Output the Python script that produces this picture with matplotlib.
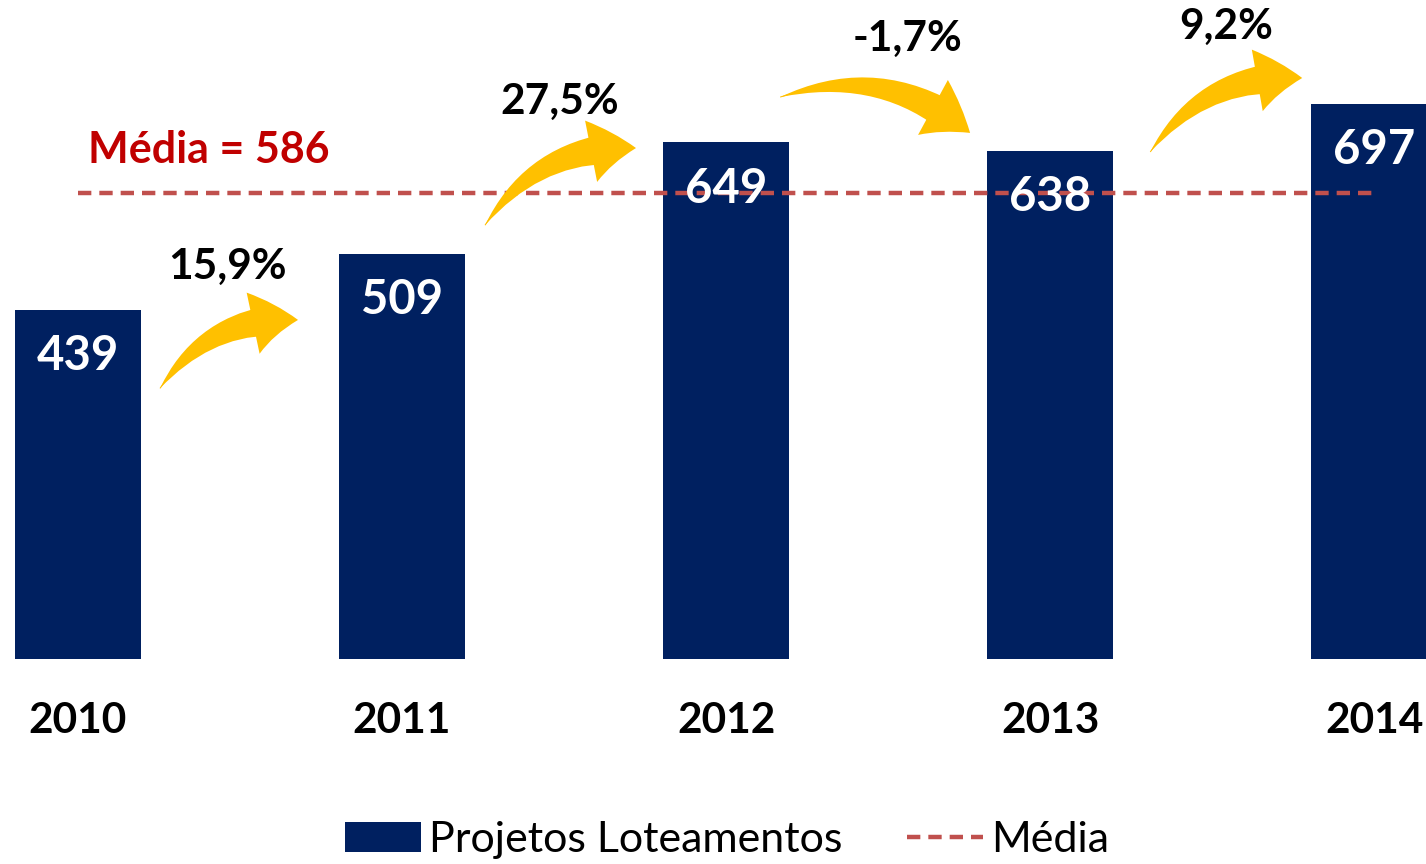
import matplotlib
matplotlib.use("Agg")
import matplotlib.pyplot as plt
from matplotlib.patches import FancyArrowPatch
import numpy as np

plt.rcParams['font.family'] = ['Lato', 'DejaVu Sans']

### Data
years = ["2010", "2011", "2012", "2013", "2014"]
values = [439, 509, 649, 638, 697]
media = 586
growth = ["15,9%", "27,5%", "-1,7%", "9,2%"]

navy = "#002060"
gold = "#FFC000"
red_line = "#C0504D"
red_text = "#C00000"

### Plot
fig = plt.figure(figsize=(14.26, 8.64), dpi=100)
ax = fig.add_axes([0, 0.2373, 1, 0.7627])

x = np.arange(len(years))
bars = ax.bar(x, values, width=0.387, color=navy, label="Projetos Loteamentos", zorder=1)
line, = ax.plot([x[0], x[-1]], [media, media], linestyle=(0, (3, 1.8)), color=red_line,
                linewidth=3.2, label="Média", zorder=2)

ax.set_xlim(-0.2407, 4.160)
ax.set_ylim(0, 828)
ax.axis("off")

# value labels inside bars
for xi, v in zip(x, values):
    ax.text(xi, v - 58, str(v), ha="center", va="center", color="white",
            fontsize=34, fontweight="bold", zorder=3)

# year labels
for xi, yr in zip(x, years):
    ax.text(xi, -78, yr, ha="center", va="center", color="black",
            fontsize=30.5, fontweight="bold", clip_on=False)

# average label
ax.text(0.03, 639, "Média = %d" % media, ha="left", va="center", color=red_text,
        fontsize=31, fontweight="bold")

# growth arrows between bars
arrow_pts = [
    ((0.253, 340), (0.679, 426)),
    ((1.256, 545), (1.722, 642)),
    ((2.167, 706), (2.753, 661)),
    ((3.309, 637), (3.778, 730)),
]
label_pos = [(0.460, 493), (1.488, 700), (2.559, 779), (3.542, 794)]
rad = 0.28
ms = 36
for (p0, p1), (lx, ly), g in zip(arrow_pts, label_pos, growth):
    # tapered body, wide near the head, pointed at the start
    body = FancyArrowPatch(p1, p0, connectionstyle="arc3,rad=%g" % rad,
                           arrowstyle="wedge,tail_width=0.6,shrink_factor=0.6",
                           mutation_scale=ms, color=gold, linewidth=0,
                           shrinkA=22, shrinkB=0, zorder=4)
    head = FancyArrowPatch(p0, p1, connectionstyle="arc3,rad=%g" % -rad,
                           arrowstyle="simple,head_length=0.9,head_width=1.25,tail_width=0.02",
                           mutation_scale=ms, color=gold, linewidth=0,
                           shrinkA=0, shrinkB=0, zorder=4)
    ax.add_patch(body)
    ax.add_patch(head)
    ax.text(lx, ly, g, ha="center", va="center", color="black",
            fontsize=30.5, fontweight="bold")

ax.legend(handles=[bars, line], loc="center", bbox_to_anchor=(0.51, 0.028),
          bbox_transform=fig.transFigure, ncol=2, frameon=False,
          fontsize=31, handlelength=1.75, handleheight=0.7, columnspacing=1.5,
          handletextpad=0.2)

fig.savefig("out.png", dpi=100)
